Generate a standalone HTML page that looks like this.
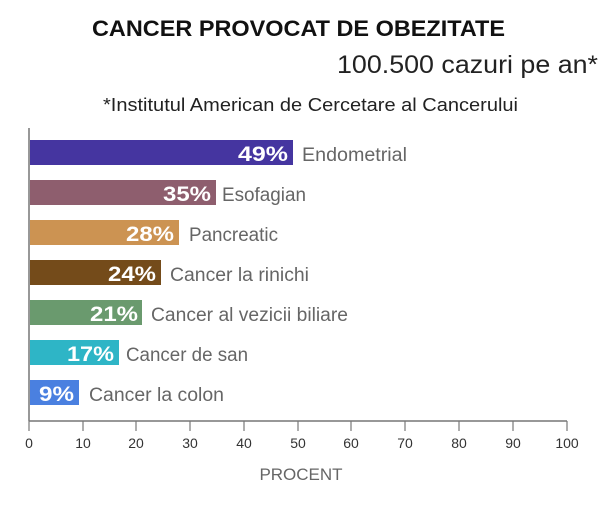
<!DOCTYPE html>
<html><head><meta charset="utf-8"><style>
body{margin:0;width:600px;height:503px;background:#fff;overflow:hidden;font-family:"Liberation Sans",sans-serif;}
</style></head><body>
<svg width="600" height="503" xmlns="http://www.w3.org/2000/svg" font-family="Liberation Sans, sans-serif">
<text x="92" y="36" font-size="22" font-weight="bold" fill="#111" textLength="413" lengthAdjust="spacingAndGlyphs">CANCER PROVOCAT DE OBEZITATE</text>
<text x="337" y="73" font-size="25" fill="#222" textLength="261" lengthAdjust="spacingAndGlyphs">100.500 cazuri pe an*</text>
<text x="103" y="111" font-size="18" fill="#222" textLength="415" lengthAdjust="spacingAndGlyphs">*Institutul American de Cercetare al Cancerului</text>
<g font-size="19" fill="#666">
<rect x="30" y="140" width="263" height="25" fill="#4535a0"/>
<rect x="30" y="180" width="186" height="25" fill="#8e5e6e"/>
<rect x="30" y="220" width="149" height="25" fill="#cc9352"/>
<rect x="30" y="260" width="131" height="25" fill="#744b1a"/>
<rect x="30" y="300" width="112" height="25" fill="#6a9a6e"/>
<rect x="30" y="340" width="89" height="25" fill="#2eb5c6"/>
<rect x="30" y="380" width="49" height="25" fill="#4a80e0"/>
<text x="302" y="161" textLength="105" lengthAdjust="spacingAndGlyphs">Endometrial</text>
<text x="222" y="201" textLength="84" lengthAdjust="spacingAndGlyphs">Esofagian</text>
<text x="189" y="241" textLength="89" lengthAdjust="spacingAndGlyphs">Pancreatic</text>
<text x="170" y="281" textLength="139" lengthAdjust="spacingAndGlyphs">Cancer la rinichi</text>
<text x="151" y="321" textLength="197" lengthAdjust="spacingAndGlyphs">Cancer al vezicii biliare</text>
<text x="126" y="361" textLength="122" lengthAdjust="spacingAndGlyphs">Cancer de san</text>
<text x="89" y="401" textLength="135" lengthAdjust="spacingAndGlyphs">Cancer la colon</text>
</g>
<g font-size="21" font-weight="bold" fill="#fff">
<text x="238" y="161" textLength="50" lengthAdjust="spacingAndGlyphs">49%</text>
<text x="163" y="201" textLength="48" lengthAdjust="spacingAndGlyphs">35%</text>
<text x="126" y="241" textLength="48" lengthAdjust="spacingAndGlyphs">28%</text>
<text x="108" y="281" textLength="48" lengthAdjust="spacingAndGlyphs">24%</text>
<text x="90" y="321" textLength="48" lengthAdjust="spacingAndGlyphs">21%</text>
<text x="67" y="361" textLength="47" lengthAdjust="spacingAndGlyphs">17%</text>
<text x="39" y="401" textLength="35" lengthAdjust="spacingAndGlyphs">9%</text>
</g>
<line x1="29" y1="128" x2="29" y2="421" stroke="#777" stroke-width="1.5"/>
<line x1="29" y1="421" x2="567" y2="421" stroke="#777" stroke-width="1.5"/>
<g stroke="#777" stroke-width="1.2">
<line x1="29" y1="421" x2="29" y2="431"/><line x1="83" y1="421" x2="83" y2="431"/><line x1="136" y1="421" x2="136" y2="431"/><line x1="190" y1="421" x2="190" y2="431"/><line x1="244" y1="421" x2="244" y2="431"/><line x1="298" y1="421" x2="298" y2="431"/><line x1="351" y1="421" x2="351" y2="431"/><line x1="405" y1="421" x2="405" y2="431"/><line x1="459" y1="421" x2="459" y2="431"/><line x1="513" y1="421" x2="513" y2="431"/><line x1="567" y1="421" x2="567" y2="431"/>
</g>
<g font-size="14" fill="#333" text-anchor="middle">
<text x="29" y="448">0</text><text x="83" y="448">10</text><text x="136" y="448">20</text><text x="190" y="448">30</text><text x="244" y="448">40</text><text x="298" y="448">50</text><text x="351" y="448">60</text><text x="405" y="448">70</text><text x="459" y="448">80</text><text x="513" y="448">90</text><text x="567" y="448">100</text>
</g>
<text x="301" y="480" text-anchor="middle" font-size="17" fill="#666">PROCENT</text>
</svg>
</body></html>
